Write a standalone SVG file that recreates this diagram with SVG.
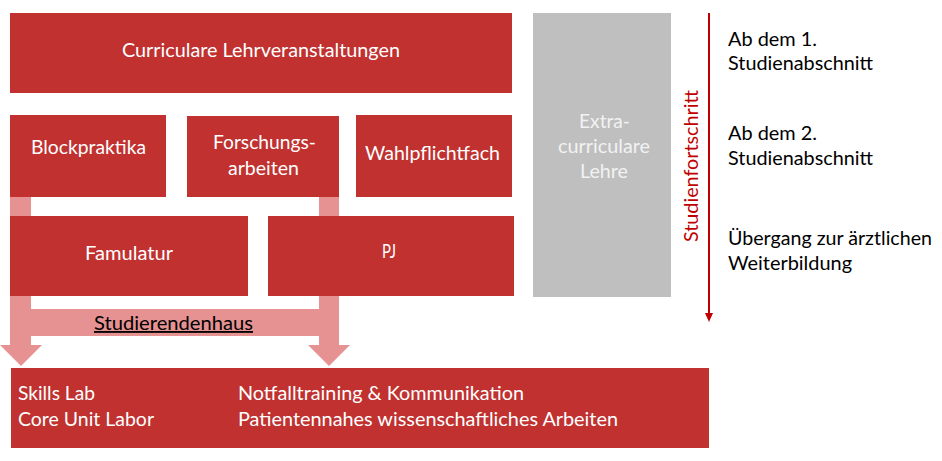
<svg xmlns="http://www.w3.org/2000/svg" width="942" height="461" viewBox="0 0 942 461">
  <style>
    .box { fill: #C0312F; }
    .gray { fill: #BFBFBF; }
    .t { font-family: Lato, "Liberation Sans", sans-serif; font-size: 18.5px; }
    .w { fill: #FFFFFF; }
    .lg { fill: #F2F2F2; }
    .k { fill: #000000; }
    .r { fill: #C00000; }
    .flow { fill: #E79292; }
  </style>
  <defs>
    <marker id="ah" markerWidth="8" markerHeight="10" refX="4" refY="9" orient="auto" markerUnits="userSpaceOnUse" viewBox="0 0 8 10">
      <path d="M0,0 L8,0 L4,10 Z" fill="#C00000"/>
    </marker>
  </defs>
  <rect width="942" height="461" fill="#FFFFFF"/>

  <g id="connectors">
    <polygon class="flow" points="10,197 31,197 31,309 319,309 319,197 339,197 339,345 350,345 329,366 308,345 319,345 319,336 31,336 31,345 42,345 21,366 0,345 10,345"/>
    <text class="t k" x="173.5" y="330" text-anchor="middle" text-decoration="underline" textLength="159" lengthAdjust="spacingAndGlyphs">Studierendenhaus</text>
    <g id="progress-arrow">
      <line x1="709" y1="13" x2="709" y2="313" stroke="#C00000" stroke-width="2"/>
      <polygon points="705,313 713,313 709,322" fill="#C00000"/>
    </g>
  </g>

  <g id="node-curriculare">
    <rect class="box" x="10" y="13" width="502" height="80"/>
    <text class="t w" x="261" y="57" text-anchor="middle" textLength="278" lengthAdjust="spacingAndGlyphs">Curriculare Lehrveranstaltungen</text>
  </g>

  <g id="node-blockpraktika">
    <rect class="box" x="10" y="115" width="156" height="82"/>
    <text class="t w" x="88.5" y="154" text-anchor="middle" textLength="115" lengthAdjust="spacingAndGlyphs">Blockpraktika</text>
  </g>

  <g id="node-forschungsarbeiten">
    <rect class="box" x="187" y="116" width="152" height="81"/>
    <text class="t w" x="264.5" y="149" text-anchor="middle" textLength="103" lengthAdjust="spacingAndGlyphs">Forschungs-</text>
    <text class="t w" x="263.5" y="175" text-anchor="middle" textLength="71" lengthAdjust="spacingAndGlyphs">arbeiten</text>
  </g>

  <g id="node-wahlpflichtfach">
    <rect class="box" x="356" y="115" width="156" height="82"/>
    <text class="t w" x="432.5" y="160" text-anchor="middle" textLength="135" lengthAdjust="spacingAndGlyphs">Wahlpflichtfach</text>
  </g>

  <g id="node-famulatur">
    <rect class="box" x="10" y="216" width="238" height="80"/>
    <text class="t w" x="129" y="260" text-anchor="middle" textLength="88" lengthAdjust="spacingAndGlyphs">Famulatur</text>
  </g>

  <g id="node-pj">
    <rect class="box" x="268" y="216" width="246" height="80"/>
    <text class="t w" x="389" y="258" text-anchor="middle" textLength="14" lengthAdjust="spacingAndGlyphs">PJ</text>
  </g>

  <g id="node-extracurriculare">
    <rect class="gray" x="533" y="13" width="138" height="284"/>
    <text class="t lg" x="604.5" y="128" text-anchor="middle" textLength="51" lengthAdjust="spacingAndGlyphs">Extra-</text>
    <text class="t lg" x="604" y="153" text-anchor="middle" textLength="92" lengthAdjust="spacingAndGlyphs">curriculare</text>
    <text class="t lg" x="604" y="178" text-anchor="middle" textLength="48" lengthAdjust="spacingAndGlyphs">Lehre</text>
  </g>

  <g id="node-bottom">
    <rect class="box" x="11" y="368" width="698" height="80"/>
    <text class="t w" x="18" y="400" textLength="77" lengthAdjust="spacingAndGlyphs">Skills Lab</text>
    <text class="t w" x="18" y="426" textLength="136" lengthAdjust="spacingAndGlyphs">Core Unit Labor</text>
    <text class="t w" x="238" y="400" textLength="286" lengthAdjust="spacingAndGlyphs">Notfalltraining &amp; Kommunikation</text>
    <text class="t w" x="238" y="426" textLength="380" lengthAdjust="spacingAndGlyphs">Patientennahes wissenschaftliches Arbeiten</text>
  </g>

  <g id="label-studienfortschritt">
    <text class="t r" transform="translate(698,166) rotate(-90)" text-anchor="middle" textLength="152" lengthAdjust="spacingAndGlyphs">Studienfortschritt</text>
  </g>

  <g id="legend">
    <text class="t k" x="728" y="46" textLength="89" lengthAdjust="spacingAndGlyphs">Ab dem 1.</text>
    <text class="t k" x="728" y="70" textLength="145" lengthAdjust="spacingAndGlyphs">Studienabschnitt</text>
    <text class="t k" x="728" y="140" textLength="89" lengthAdjust="spacingAndGlyphs">Ab dem 2.</text>
    <text class="t k" x="728" y="165" textLength="145" lengthAdjust="spacingAndGlyphs">Studienabschnitt</text>
    <text class="t k" x="728" y="245" textLength="204" lengthAdjust="spacingAndGlyphs">Übergang zur ärztlichen</text>
    <text class="t k" x="728" y="270" textLength="124" lengthAdjust="spacingAndGlyphs">Weiterbildung</text>
  </g>
</svg>
